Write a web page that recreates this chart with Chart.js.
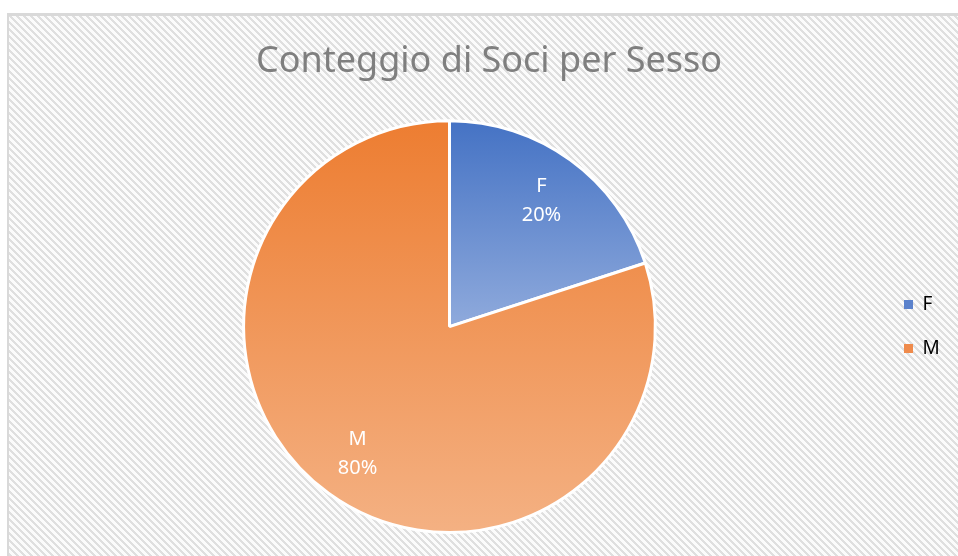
<!DOCTYPE html>
<html>
<head>
<meta charset="utf-8">
<title>Conteggio di Soci per Sesso</title>
<script src="https://cdn.jsdelivr.net/npm/chart.js@4/dist/chart.umd.min.js"></script>
<style>
    html, body { margin: 0; padding: 0; background: #ffffff; }
    #wrap { position: relative; width: 958px; height: 556px; }
</style>
</head>
<body>
<div id="wrap"><canvas id="sociChart" width="958" height="556"></canvas></div>
<script>
// data
const categories = ['F', 'M'];
const counts = [1, 4];
const chartTitle = 'Conteggio di Soci per Sesso';

// gradient colours per slice (top -> bottom)
const sliceTop = ['#4472C4', '#ED7D31'];
const sliceBottom = ['#8FAADC', '#F4B183'];
const legendColors = ['#5b82cc', '#ef8b4c'];

const total = counts.reduce((s, v) => s + v, 0);

// hatched background tile, like the office "wide downward diagonal" fill
function makeHatch() {
    const size = 7;
    const tile = document.createElement('canvas');
    tile.width = size;
    tile.height = size;
    const t = tile.getContext('2d');
    t.fillStyle = '#fbfbfb';
    t.fillRect(0, 0, size, size);
    t.fillStyle = '#dfdfdf';
    for (let y = 0; y < size; y++) {
        for (let x = 0; x < size; x++) {
            if (((x - y) % size + size) % size < 3) t.fillRect(x, y, 1, 1);
        }
    }
    return tile;
}
const hatchTile = makeHatch();

// vertical gradient covering the bounding box of one slice
function sliceGradient(context) {
    const chart = context.chart;
    const i = context.dataIndex;
    const area = chart.chartArea;
    if (!area || i === undefined) return sliceTop[i || 0];

    const cx = (area.left + area.right) / 2;
    const cy = (area.top + area.bottom) / 2;
    const r = Math.min(area.right - area.left, area.bottom - area.top) / 2;

    let before = 0;
    for (let k = 0; k < i; k++) before += counts[k];
    const a0 = -Math.PI / 2 + 2 * Math.PI * before / total;
    const a1 = a0 + 2 * Math.PI * counts[i] / total;

    const ys = [cy, cy + r * Math.sin(a0), cy + r * Math.sin(a1)];
    const hits = (a) => {
        for (let n = -2; n <= 2; n++) {
            const v = a + n * 2 * Math.PI;
            if (v >= a0 && v <= a1) return true;
        }
        return false;
    };
    if (hits(Math.PI / 2)) ys.push(cy + r);
    if (hits(-Math.PI / 2)) ys.push(cy - r);

    const g = chart.ctx.createLinearGradient(0, Math.min(...ys), 0, Math.max(...ys));
    g.addColorStop(0, sliceTop[i]);
    g.addColorStop(1, sliceBottom[i]);
    return g;
}

const frameBackground = {
    id: 'frameBackground',
    beforeDraw(chart) {
        const ctx = chart.ctx;
        ctx.save();
        ctx.fillStyle = '#ffffff';
        ctx.fillRect(0, 0, chart.width, chart.height);
        ctx.fillStyle = ctx.createPattern(hatchTile, 'repeat');
        ctx.fillRect(9, 16, chart.width - 9, chart.height - 16);
        ctx.fillStyle = '#d9d9d9';
        ctx.fillRect(7, 13, chart.width - 7, 3);
        ctx.fillRect(7, 13, 2, chart.height - 13);
        ctx.restore();
    }
};

// keep the legend column at a fixed width so the pie sits left of the title centre
const legendWidth = {
    id: 'legendWidth',
    afterInit(chart) {
        const legend = chart.legend;
        if (!legend) return;
        const fit = legend.fit.bind(legend);
        legend.fit = function () {
            fit();
            this.width = 79;
        };
    }
};

// category name and percentage inside each slice
const sliceLabels = {
    id: 'sliceLabels',
    afterDatasetsDraw(chart) {
        const ctx = chart.ctx;
        const meta = chart.getDatasetMeta(0);
        ctx.save();
        ctx.fillStyle = '#ffffff';
        ctx.font = '20px "Noto Sans"';
        ctx.textAlign = 'center';
        ctx.textBaseline = 'middle';
        meta.data.forEach((arc, i) => {
            const p = arc.getProps(['x', 'y', 'startAngle', 'endAngle', 'outerRadius'], true);
            const mid = (p.startAngle + p.endAngle) / 2;
            const d = p.outerRadius * 0.76;
            const x = p.x + Math.cos(mid) * d;
            const y = p.y + Math.sin(mid) * d;
            const pct = Math.round(counts[i] / total * 100) + '%';
            ctx.fillText(categories[i], x, y - 14);
            ctx.fillText(pct, x, y + 15);
        });
        ctx.restore();
    }
};

const ctx = document.getElementById('sociChart').getContext('2d');
const sociChart = new Chart(ctx, {
    type: 'pie',
    data: {
        labels: categories,
        datasets: [{
            data: counts,
            backgroundColor: sliceGradient,
            borderColor: '#ffffff',
            borderWidth: 3
        }]
    },
    options: {
        responsive: false,
        animation: false,
        layout: {
            padding: { left: 20, right: 0, top: 0, bottom: 22 }
        },
        plugins: {
            title: {
                display: true,
                text: chartTitle,
                color: '#7f7f7f',
                font: { family: '"Noto Sans"', size: 36, weight: 'normal' },
                padding: { top: 40, bottom: 36 }
            },
            legend: {
                position: 'right',
                fullSize: false,
                labels: {
                    color: '#595959',
                    font: { family: '"Noto Sans"', size: 19 },
                    boxWidth: 9,
                    boxHeight: 9,
                    padding: 25,
                    generateLabels(chart) {
                        return categories.map((name, i) => ({
                            text: name,
                            fillStyle: legendColors[i],
                            strokeStyle: legendColors[i],
                            lineWidth: 0,
                            index: i,
                            hidden: false
                        }));
                    }
                }
            },
            tooltip: { enabled: false }
        }
    },
    plugins: [frameBackground, legendWidth, sliceLabels]
});
</script>
</body>
</html>
